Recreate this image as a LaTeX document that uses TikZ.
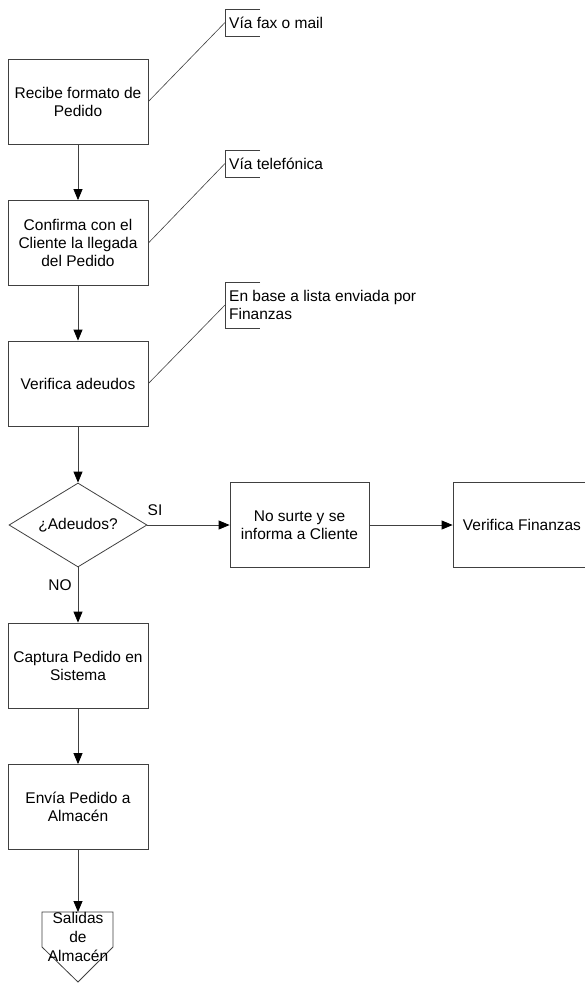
\documentclass[tikz,border=0pt]{standalone}
\usepackage{fontspec}
\setmainfont{Liberation Sans}
\usetikzlibrary{shapes.geometric,arrows.meta}
\begin{document}
\begin{tikzpicture}[x=1pt,y=-1pt,
  line/.style={draw=black!75,line width=0.8pt},
  proc/.style={line,rectangle,minimum width=140pt,minimum height=85pt,
    align=center,inner sep=2pt,font=\fontsize{15.5}{18}\selectfont},
  decision/.style={line,diamond,aspect=1.64,minimum width=138pt,minimum height=84pt,
    inner sep=0pt,font=\fontsize{15.5}{18}\selectfont},
  flow/.style={line,-{Triangle[length=11pt,width=9pt,fill=black,color=black]}},
  note/.style={anchor=west,align=left,inner sep=0pt,font=\fontsize{15.5}{18}\selectfont},
  tag/.style={inner sep=0pt,font=\fontsize{15.5}{18}\selectfont}]
\useasboundingbox (0,0) rectangle (585,983);
\fill[white] (0,0) rectangle (585,983);

% main column
\node[proc] (b1) at (78,101.5) {Recibe formato de\\Pedido};
\node[proc] (b2) at (78,243) {Confirma con el\\Cliente la llegada\\del Pedido};
\node[proc] (b3) at (78,383.5) {Verifica adeudos};
\node[decision] (d) at (78,525) {¿Adeudos?};
\node[proc] (b4) at (78,665.5) {Captura Pedido en\\Sistema};
\node[proc] (b5) at (78,807) {Envía Pedido a\\Almacén};

% right branch
\node[proc,minimum width=139pt] (c1) at (299.5,525) {No surte y se\\informa a Cliente};
\node[proc,minimum width=138pt] (c2) at (522,525) {Verifica Finanzas};

% off-page connector
\coordinate (op) at (78,912);
\draw[line] (42,912) -- (113,912) -- (113,947) -- (78,982) -- (42,947) -- cycle;
\node[align=center,inner sep=0pt,font=\fontsize{15.5}{19}\selectfont,anchor=north] (opt) at (78,912) {Salidas\\de\\Almacén};

% annotations
\node[note] (a1) at (229,22.5) {Vía fax o mail};
\coordinate (a1b) at (225,22.5);
\draw[line,line width=0.6pt] (260,9) -- (225,9) -- (225,36) -- (260,36);
\node[note] (a2) at (229,163.5) {Vía telefónica};
\coordinate (a2b) at (225,163.5);
\draw[line,line width=0.6pt] (260,150) -- (225,150) -- (225,177) -- (260,177);
\node[note] (a3) at (229,305) {En base a lista enviada por\\Finanzas};
\coordinate (a3b) at (225,305);
\draw[line,line width=0.6pt] (260,282) -- (225,282) -- (225,328) -- (260,328);

\draw[line,line width=0.6pt] (b1.east) -- (a1b);
\draw[line,line width=0.6pt] (b2.east) -- (a2b);
\draw[line,line width=0.6pt] (b3.east) -- (a3b);

% flow connectors
\draw[flow] (b1) -- (b2);
\draw[flow] (b2) -- (b3);
\draw[flow] (b3) -- (d);
\draw[flow] (d.east) -- (c1.west);
\draw[flow] (c1) -- (c2);
\draw[flow] (d.south) -- (b4);
\draw[flow] (b4) -- (b5);
\draw[flow] (b5.south) -- (op);

% branch labels
\node[tag] (si) at (155,510) {SI};
\node[tag] (no) at (60,585) {NO};
\end{tikzpicture}
\end{document}
